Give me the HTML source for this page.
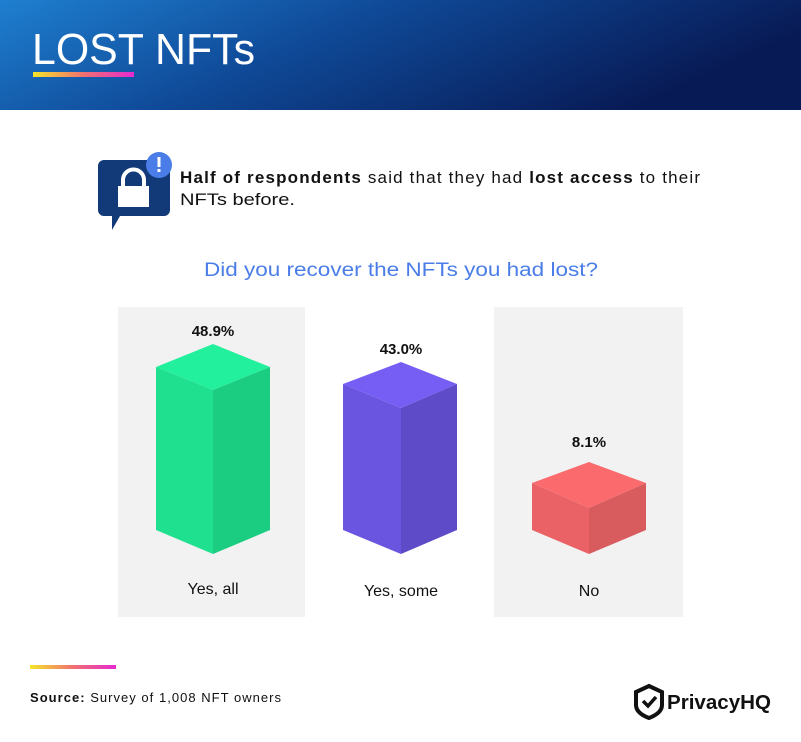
<!DOCTYPE html>
<html><head><meta charset="utf-8"><style>
body{margin:0;width:801px;height:737px;overflow:hidden;background:#fff;font-family:"Liberation Sans",sans-serif}
</style></head><body>
<svg width="801" height="737" viewBox="0 0 801 737" xmlns="http://www.w3.org/2000/svg">
<defs>
<linearGradient id="hdr" x1="0" y1="0" x2="1" y2="0.3">
<stop offset="0" stop-color="#1f7fd0"/><stop offset="0.45" stop-color="#0f4a98"/><stop offset="1" stop-color="#081a55"/>
</linearGradient>
<linearGradient id="ul" x1="0" x2="1"><stop offset="0" stop-color="#f5e52a"/><stop offset="0.5" stop-color="#f07070"/><stop offset="1" stop-color="#e52ad0"/></linearGradient>
</defs>
<rect x="0" y="0" width="801" height="110" fill="url(#hdr)"/>
<text x="32" y="64" font-size="44" fill="#fff" textLength="223" lengthAdjust="spacingAndGlyphs">LOST NFTs</text>
<rect x="33" y="72" width="101" height="5" fill="url(#ul)"/>
<path d="M104 160 h60 a6 6 0 0 1 6 6 v44 a6 6 0 0 1 -6 6 h-44 l-8 14 v-14 h-8 a6 6 0 0 1 -6 -6 v-44 a6 6 0 0 1 6 -6z" fill="#123a78"/>
<rect x="118" y="186" width="31" height="21" fill="#fff"/>
<path d="M123 186 v-6 a10.5 10.5 0 0 1 21 0 v6" fill="none" stroke="#fff" stroke-width="4"/>
<circle cx="159" cy="165" r="13" fill="#4a7de8"/>
<rect x="157.5" y="157" width="3" height="10" fill="#fff"/><rect x="157.5" y="169" width="3" height="3" fill="#fff"/>
<text x="180" y="183" font-size="17" fill="#111" textLength="520" lengthAdjust="spacing"><tspan font-weight="bold">Half of respondents</tspan> said that they had <tspan font-weight="bold">lost access</tspan> to their</text>
<text x="180" y="205" font-size="17" fill="#111" textLength="115" lengthAdjust="spacingAndGlyphs">NFTs before.</text>
<text x="204" y="276" font-size="19" fill="#4a7de8" textLength="394" lengthAdjust="spacingAndGlyphs">Did you recover the NFTs you had lost?</text>
<rect x="118" y="307" width="187" height="310" fill="#f2f2f2"/>
<rect x="494" y="307" width="189" height="310" fill="#f2f2f2"/>
<polygon points="156,367 213,344 270,367 213,390" fill="#22f09c"/>
<polygon points="156,367 213,390 213,554 156,530" fill="#1fe08f"/>
<polygon points="213,390 270,367 270,530 213,554" fill="#1bcd80"/>
<polygon points="343,384 401,362 457,384 401,408" fill="#765ef5"/>
<polygon points="343,384 401,408 401,554 343,530" fill="#6a55e0"/>
<polygon points="401,408 457,384 457,530 401,554" fill="#5d4bc8"/>
<polygon points="532,483 589,462 646,483 589,508" fill="#fb6b6e"/>
<polygon points="532,483 589,508 589,554 532,530" fill="#ea6265"/>
<polygon points="589,508 646,483 646,530 589,554" fill="#d85b5d"/>
<g font-size="15" font-weight="bold" fill="#111" text-anchor="middle">
<text x="213" y="336">48.9%</text><text x="401" y="354">43.0%</text><text x="589" y="447">8.1%</text></g>
<g font-size="16" fill="#111" text-anchor="middle">
<text x="213" y="594">Yes, all</text><text x="401" y="596">Yes, some</text><text x="589" y="596">No</text></g>
<rect x="30" y="665" width="86" height="4" fill="url(#ul)"/>
<text x="30" y="702" font-size="13" fill="#111" textLength="251" lengthAdjust="spacing"><tspan font-weight="bold">Source:</tspan> Survey of 1,008 NFT owners</text>
<path d="M649 686 l13 6 v13 q0 8 -13 13 q-13 -5 -13 -13 v-13z" fill="none" stroke="#111" stroke-width="4"/>
<path d="M643 701 l5 5 l8 -9" fill="none" stroke="#111" stroke-width="3.5"/>
<text x="667" y="709" font-size="20" font-weight="bold" fill="#111" textLength="104" lengthAdjust="spacingAndGlyphs">PrivacyHQ</text>
</svg>
</body></html>
